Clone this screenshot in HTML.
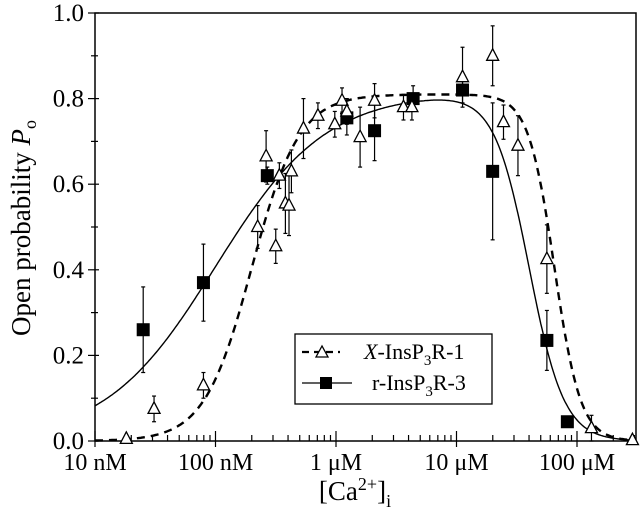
<!DOCTYPE html>
<html><head><meta charset="utf-8"><style>
html,body{margin:0;padding:0;background:#fff;}
svg{display:block;font-family:"Liberation Serif",serif;}
</style></head><body>
<svg id="chart" width="640" height="520" viewBox="0 0 640 520">
<g id="axes"></g>
<g id="curves"></g>
<g id="marks"></g>
<g id="legend">
 <rect x="295" y="334" width="197" height="70" fill="#fff" stroke="#000" stroke-width="1.3"/>
 <g>
  <line x1="302" y1="352" x2="340" y2="352" stroke="#000" stroke-width="2.2" stroke-dasharray="7,5"/>
  <polygon points="322,346 316,357 328,357" fill="#fff" stroke="#000" stroke-width="1.3"/>
  <text x="364" y="359" font-size="22"><tspan font-style="italic">X</tspan>-InsP<tspan font-size="15" dy="6">3</tspan><tspan dy="-6">R-1</tspan></text>
 </g>
 <g>
  <line x1="302" y1="383" x2="352" y2="383" stroke="#000" stroke-width="1.3"/>
  <rect x="320" y="377" width="12" height="12" fill="#000"/>
  <text x="372" y="390" font-size="22">r-InsP<tspan font-size="15" dy="6">3</tspan><tspan dy="-6">R-3</tspan></text>
 </g>
</g>
<text x="0" y="0" font-size="27" transform="translate(30,228) rotate(-90)" text-anchor="middle">Open probability <tspan font-style="italic">P</tspan><tspan font-size="18" dy="6">o</tspan></text>
<text x="355" y="500" font-size="27" text-anchor="middle">[Ca<tspan font-size="18" dy="-10">2+</tspan><tspan dy="10">]</tspan><tspan font-size="18" dy="7">i</tspan></text>
</svg>
<script>
// data (log10 of [Ca] in M, open probability, error)
const triLogC = [-7.74,-7.51,-7.10,-6.65,-6.58,-6.50,-6.47,-6.42,-6.39,-6.37,-6.27,-6.15,-6.01,-5.95,-5.91,-5.80,-5.68,-5.44,-5.37,-4.95,-4.70,-4.61,-4.49,-4.25,-3.88,-3.54];
const triPo   = [0.005,0.075,0.13,0.50,0.665,0.455,0.62,0.555,0.55,0.63,0.73,0.76,0.74,0.795,0.77,0.71,0.795,0.78,0.78,0.85,0.90,0.745,0.69,0.425,0.03,0.002];
const triErr  = [0.005,0.03,0.03,0.05,0.06,0.04,0.03,0.07,0.07,0.05,0.07,0.03,0.03,0.03,0.03,0.07,0.04,0.03,0.03,0.07,0.07,0.04,0.07,0.08,0.03,0];
const sqLogC = [-7.60,-7.10,-6.57,-5.91,-5.68,-5.36,-4.95,-4.70,-4.25,-4.08];
const sqPo   = [0.26,0.37,0.62,0.755,0.725,0.80,0.82,0.63,0.235,0.045];
const sqErr  = [0.10,0.09,0.02,0.04,0.07,0.03,0.03,0.16,0.07,0.01];
const yTicks = [0,0.2,0.4,0.6,0.8,1.0];
const yTickLabels = ["0.0","0.2","0.4","0.6","0.8","1.0"];
const xDecades = [-8,-7,-6,-5,-4];
const xTickLabels = ["10 nM","100 nM","1 \u03bcM","10 \u03bcM","100 \u03bcM"];
// fitted bell-curve parameters
const fitDashed = {pmax:0.81, k1:2e-7, n1:2.2, k2:6.5e-5, n2:4};
const fitSolid  = {pmax:0.815, k1:1e-7, n1:0.95, k2:4.0e-5, n2:3};

const NS="http://www.w3.org/2000/svg";
const X0=95, X1=636, DEC=120.5, Y0=441, YT=13;
const xs = l => X0 + (l+8)*DEC;
const ys = p => Y0 - p*(Y0-YT);
function mk(tag, attrs, parent){const e=document.createElementNS(NS,tag);for(const k in attrs)e.setAttribute(k,attrs[k]);parent.appendChild(e);return e;}
const axes=document.getElementById('axes');
const frame=mk('rect',{x:X0,y:YT,width:X1-X0,height:Y0-YT,fill:'none',stroke:'#000','stroke-width':1.5},axes);


for(let i=0;i<=10;i++){const v=i/10;const y=ys(v);const major=i%2===0;
 mk('line',{x1:major?X0-7:X0-4,x2:X0+ (major?4:3),y1:y,y2:y,stroke:'#000','stroke-width':1.2},axes);}
yTicks.forEach((v,i)=>{const t=mk('text',{x:X0-11,y:ys(v)+8,'font-size':25,'text-anchor':'end'},axes);t.textContent=yTickLabels[i];
 
 });
const lmax=(X1-X0)/DEC-8;
for(let d=-8;d<=-4;d++){for(let m=1;m<=9;m++){const l=d+Math.log10(m);if(l>lmax)break;const x=xs(l);
 mk('line',{x1:x,x2:x,y1:m===1?Y0+6:Y0,y2:m===1?Y0-10:Y0-6,stroke:'#000','stroke-width':1.2},axes);}}
xDecades.forEach((d,i)=>{const t=mk('text',{x:xs(d),y:Y0+29,'font-size':24,'text-anchor':'middle'},axes);t.textContent=xTickLabels[i];
 
 });
function bell(f,l){const c=Math.pow(10,l);return f.pmax/((1+Math.pow(f.k1/c,f.n1))*(1+Math.pow(c/f.k2,f.n2)));}
function curvePath(f){let d='';for(let l=-8;l<=lmax;l+=0.01){d+=(d?'L':'M')+xs(l).toFixed(1)+','+ys(bell(f,l)).toFixed(1);}return d;}
const cg=document.getElementById('curves');
const pd=mk('path',{d:curvePath(fitDashed),fill:'none',stroke:'#000','stroke-width':2.4,'stroke-dasharray':'8,6'},cg);


const ps=mk('path',{d:curvePath(fitSolid),fill:'none',stroke:'#000','stroke-width':1.4},cg);


const mg=document.getElementById('marks');
function errBar(x,p,e){if(e<=0)return;mk('line',{x1:x,x2:x,y1:ys(p-e),y2:ys(p+e),stroke:'#000','stroke-width':1.2},mg);
 mk('line',{x1:x-2,x2:x+2,y1:ys(p+e),y2:ys(p+e),stroke:'#000','stroke-width':1.2},mg);
 mk('line',{x1:x-2,x2:x+2,y1:ys(p-e),y2:ys(p-e),stroke:'#000','stroke-width':1.2},mg);}
sqLogC.forEach((l,i)=>{const x=xs(l),y=ys(sqPo[i]);errBar(x,sqPo[i],sqErr[i]);
 const r=mk('rect',{x:x-6.5,y:y-6.5,width:13,height:13,fill:'#000'},mg);
 
 });
triLogC.forEach((l,i)=>{const x=xs(l),y=ys(triPo[i]);errBar(x,triPo[i],triErr[i]);
 const t=mk('polygon',{points:`${x},${y-7} ${x-6},${y+4.5} ${x+6},${y+4.5}`,fill:'#fff',stroke:'#000','stroke-width':1.3},mg);
 
 });
</script>
</body></html>
